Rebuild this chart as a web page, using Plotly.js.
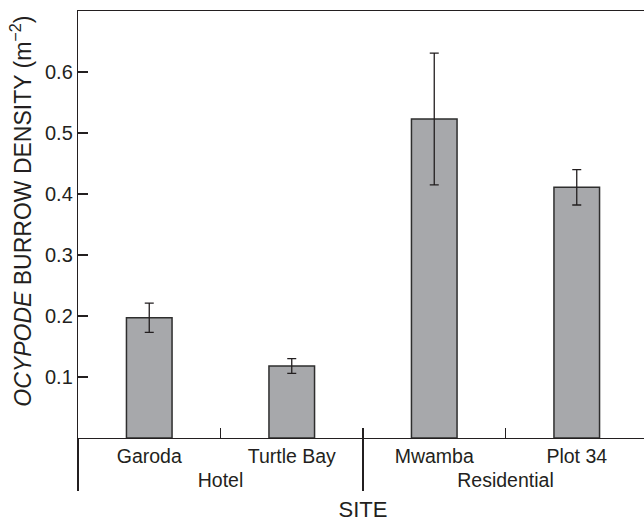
<!DOCTYPE html>
<html>
<head>
<meta charset="utf-8">
<script src="https://cdn.plot.ly/plotly-3.0.1.min.js"></script>
<style>html,body{margin:0;padding:0;overflow:hidden;background:#fff}#chart{width:648px;height:521px}</style>
</head>
<body>
<div id="chart"></div>
<script>
const groups = ["Hotel", "Hotel", "Residential", "Residential"];
const sites = ["Garoda", "Turtle Bay", "Mwamba", "Plot 34"];
const density = [0.197, 0.118, 0.523, 0.411];
const errors = [0.024, 0.012, 0.108, 0.029];
const yTicks = [0.1, 0.2, 0.3, 0.4, 0.5, 0.6];

const ink = '#231f20';
const trace = {
  type: 'bar',
  x: [groups, sites],
  y: density,
  width: 0.32,
  marker: {color: '#a7a8ab', line: {color: '#2e2e2e', width: 1.5}},
  error_y: {type: 'data', array: errors, visible: true, color: ink, thickness: 1.3, width: 4.5},
  hoverinfo: 'none'
};

const layout = {
  width: 648, height: 521,
  margin: {l: 78, r: 0, t: 11, b: 83},
  paper_bgcolor: '#fff', plot_bgcolor: '#fff',
  font: {family: '"Liberation Sans", Arial, sans-serif', color: ink, size: 19},
  showlegend: false,
  xaxis: {
    type: 'multicategory',
    showline: true, linecolor: ink, linewidth: 1.2, mirror: true,
    ticks: 'inside', tickson: 'boundaries', ticklen: 10, tickwidth: 1.2, tickcolor: ink,
    showdividers: true, dividercolor: ink, dividerwidth: 1.2,
    showgrid: false, zeroline: false,
    tickfont: {size: 19.5, color: ink},
    title: {text: 'SITE', font: {size: 22, color: ink}, standoff: 12}
  },
  yaxis: {
    range: [0, 0.7],
    tickvals: yTicks, ticktext: yTicks.map(v => v.toFixed(1)),
    showline: true, linecolor: ink, linewidth: 1.2,
    ticks: 'inside', ticklen: 10, tickwidth: 1.2, tickcolor: ink,
    ticklabelstandoff: 0,
    showgrid: false, zeroline: false,
    tickfont: {size: 20, color: ink}
  },
  annotations: [{
    text: '<i>OCYPODE</i> BURROW DENSITY (m<sup>−2</sup>)',
    xref: 'paper', yref: 'paper', x: 0, y: 0.53,
    xanchor: 'center', yanchor: 'middle', xshift: -57,
    textangle: -90, showarrow: false,
    font: {size: 23, color: ink}
  }]
};

Plotly.newPlot('chart', [trace], layout, {displayModeBar: false, staticPlot: true});
</script>
</body>
</html>
